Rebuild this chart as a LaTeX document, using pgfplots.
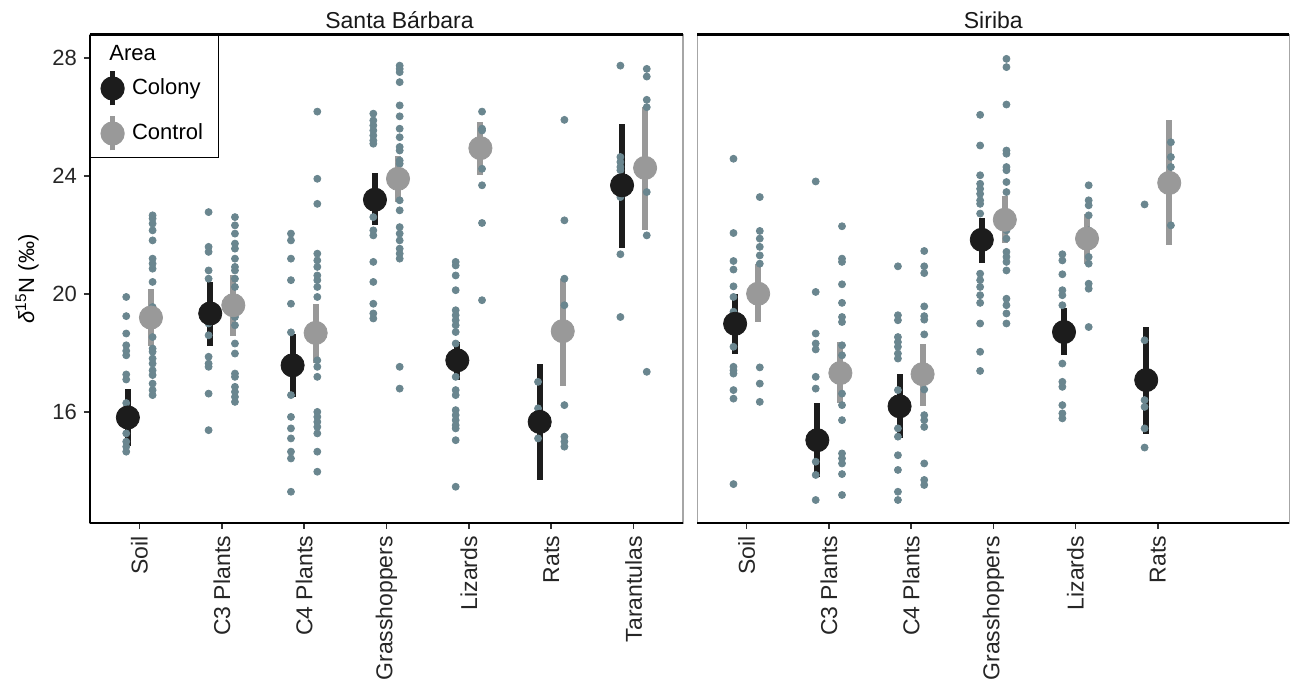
\documentclass[border=0pt]{standalone}
\usepackage{fontspec}
\setmainfont{Liberation Sans}
\usepackage{pgfplots}
\pgfplotsset{compat=1.18}
\usepackage{pgfplotstable}

\definecolor{dotc}{RGB}{106,134,143}
\definecolor{colc}{RGB}{28,28,28}
\definecolor{conc}{RGB}{153,153,153}

% ---------- Santa Barbara ----------
\pgfplotstableread{
c y
1 19.90
1 19.25
1 18.66
1 18.26
1 18.07
1 17.92
1 17.27
1 17.10
1 16.30
1 16.06
1 15.60
1 15.27
1 14.99
1 14.82
1 14.65
2 22.78
2 21.60
2 21.43
2 20.80
2 20.52
2 19.00
2 18.60
2 17.87
2 17.64
2 17.53
2 16.62
2 15.38
3 22.05
3 21.82
3 21.20
3 20.47
3 19.67
3 18.70
3 17.50
3 16.57
3 15.83
3 15.44
3 15.10
3 14.65
3 14.42
3 13.29
4 26.12
4 25.89
4 25.72
4 25.55
4 25.38
4 25.21
4 25.10
4 22.61
4 22.16
4 21.99
4 21.09
4 20.41
4 19.67
4 19.34
4 19.17
5 21.09
5 20.97
5 20.63
5 20.13
5 19.45
5 19.28
5 19.11
5 18.94
5 18.71
5 18.32
5 17.19
5 16.74
5 16.57
5 16.06
5 15.89
5 15.72
5 15.55
5 15.44
5 15.04
5 13.46
6 17.02
6 16.12
6 15.60
6 15.10
7 27.75
7 24.65
7 24.48
7 24.31
7 24.20
7 23.29
7 21.35
7 19.22
}\SBcolDots

\pgfplotstableread{
c y
1 22.67
1 22.56
1 22.39
1 22.16
1 21.82
1 21.20
1 21.03
1 20.86
1 20.41
1 19.56
1 18.54
1 18.15
1 18.04
1 17.81
1 17.64
1 17.41
1 17.25
1 16.96
1 16.74
1 16.57
2 22.61
2 22.33
2 22.05
2 21.71
2 21.54
2 21.20
2 20.92
2 20.80
2 20.52
2 20.24
2 19.22
2 18.94
2 18.32
2 17.98
2 17.30
2 17.19
2 16.85
2 16.68
2 16.51
2 16.34
3 26.19
3 23.91
3 23.06
3 21.37
3 21.14
3 20.92
3 20.63
3 20.47
3 20.24
3 19.90
3 17.75
3 17.53
3 17.19
3 16.00
3 15.83
3 15.66
3 15.49
3 15.27
3 14.65
3 13.97
4 27.75
4 27.64
4 27.53
4 27.19
4 26.40
4 26.03
4 25.61
4 25.32
4 24.99
4 24.87
4 24.53
4 24.42
4 23.18
4 22.84
4 22.27
4 22.05
4 21.82
4 21.54
4 21.37
4 21.20
4 17.53
4 16.79
5 26.19
5 25.61
5 25.55
5 24.25
5 23.69
5 22.41
5 19.79
6 25.91
6 22.50
6 20.52
6 19.62
6 16.23
6 15.16
6 14.99
6 14.82
7 27.64
7 27.38
7 26.59
7 26.34
7 24.40
7 23.46
7 21.99
7 17.36
}\SBconDots

\pgfplotstableread{
c m lo hi
1 15.81 14.84 16.79
2 19.34 18.23 20.41
3 17.58 16.51 18.63
4 23.20 22.33 24.10
5 17.75 17.08 18.37
6 15.66 13.69 17.62
7 23.69 21.57 25.78
}\SBcolMean

\pgfplotstableread{
c m lo hi
1 19.20 18.23 20.18
2 19.62 18.57 20.63
3 18.68 17.66 19.67
4 23.91 23.12 24.70
5 24.95 24.05 25.83
6 18.74 16.88 20.52
7 24.28 22.18 26.36
}\SBconMean

% ---------- Siriba ----------
\pgfplotstableread{
c y
1 24.59
1 22.07
1 21.12
1 20.83
1 20.26
1 19.90
1 19.40
1 18.21
1 17.53
1 17.41
1 17.30
1 16.74
1 16.45
1 13.55
2 23.82
2 20.07
2 18.66
2 18.32
2 18.12
2 17.19
2 16.79
2 14.31
2 13.86
2 13.01
3 20.94
3 19.28
3 19.11
3 18.54
3 18.37
3 18.21
3 17.98
3 17.81
3 16.74
3 15.44
3 15.16
3 14.53
3 14.03
3 13.29
3 13.01
4 26.08
4 25.04
4 24.03
4 23.74
4 23.57
4 23.40
4 23.18
4 23.06
4 22.73
4 20.69
4 20.47
4 20.24
4 19.96
4 19.70
4 19.00
4 18.04
4 17.39
5 21.35
5 21.14
5 20.67
5 20.13
5 19.96
5 19.62
5 17.64
5 17.02
5 16.85
5 16.23
5 15.95
5 15.78
6 23.04
6 18.43
6 16.40
6 16.17
6 15.44
6 14.79
}\SIcolDots

\pgfplotstableread{
c y
1 23.29
1 22.14
1 21.88
1 21.60
1 21.31
1 21.03
1 17.51
1 16.96
1 16.34
2 22.30
2 21.20
2 21.09
2 20.33
2 19.70
2 19.22
2 19.05
2 18.26
2 17.92
2 16.62
2 16.23
2 15.72
2 14.59
2 14.42
2 14.25
2 13.89
2 13.18
3 21.46
3 20.94
3 20.71
3 19.58
3 19.25
3 19.13
3 18.63
3 16.76
3 15.89
3 15.72
3 15.49
3 14.25
3 13.69
3 13.52
4 27.98
4 27.70
4 26.43
4 24.87
4 24.76
4 24.31
4 24.20
4 23.80
4 23.46
4 22.16
4 21.88
4 21.43
4 21.26
4 21.09
4 20.80
4 19.84
4 19.62
4 19.34
4 19.00
5 23.69
5 23.18
5 23.01
5 22.67
5 22.16
5 21.71
5 21.26
5 21.03
5 20.35
5 20.18
5 18.88
6 25.15
6 24.65
6 24.31
6 22.33
}\SIconDots

\pgfplotstableread{
c m lo hi
1 18.99 17.98 20.01
2 15.04 13.80 16.29
3 16.19 15.10 17.28
4 21.84 21.06 22.59
5 18.71 17.92 19.54
6 17.08 15.25 18.88
}\SIcolMean

\pgfplotstableread{
c m lo hi
1 20.01 19.05 21.03
2 17.32 16.29 18.37
3 17.28 16.19 18.32
4 22.52 21.73 23.31
5 21.88 21.03 22.73
6 23.77 21.65 25.89
}\SIconMean

\pgfplotsset{
  panel/.style={
    scale only axis,
    height=244pt,
    xmin=0.4, xmax=7.6,
    ymin=12.23, ymax=28.79,
    ytick={16,20,24,28},
    xtick={1,2,3,4,5,6,7},
    axis line style={draw=black!35, line width=0.6pt},
    tick align=outside,
    major tick length=3pt,
    tick style={color=black!80, line width=0.8pt},
    xtick pos=lower, ytick pos=left,
    /pgf/number format/assume math mode=true,
    tick label style={font=\fontsize{11}{13}\selectfont, text=black!85},
    x tick label style={rotate=90, anchor=east, font=\fontsize{11.5}{13}\selectfont},
    every axis title/.style={at={(0.5,1)}, anchor=base, yshift=3.2pt,
      font=\fontsize{11.5}{13}\selectfont, text=black!90},
    clip=false,
  },
  dots/.style={only marks, mark=*, mark size=1.75pt, color=dotc, mark options={draw=none, fill=dotc}, forget plot},
  means/.style={only marks, mark=*, mark size=5.8pt, color=#1, mark options={draw=none, fill=#1},
    error bars/y dir=both, error bars/y explicit, error bars/error mark=none,
    error bars/error bar style={line width=3pt, color=#1}},
  meanglyph/.style={legend image code/.code={%
      \path[draw=none, fill=none] (-6pt,-10pt) rectangle (6pt,10pt);
      \draw[line width=2.8pt, color=#1] (0pt,-8.5pt) -- (0pt,8.5pt);
      \fill[color=#1] (0pt,0pt) circle (5.8pt);}},
}

\begin{document}
\begin{tikzpicture}
\useasboundingbox (0,0) rectangle (645.5pt,341.5pt);

% ---- Panel 1: Santa Barbara ----
\begin{axis}[panel,
  at={(45pt,80pt)}, anchor=south west,
  width=296.5pt,
  title={Santa Bárbara},
  title style={xshift=6.5pt},
  xticklabels={Soil, C3 Plants, C4 Plants, Grasshoppers, Lizards, Rats, Tarantulas},
  ylabel={\textit{δ}\textsuperscript{15}N (‰)},
  ylabel style={font=\fontsize{11}{13}\selectfont, text=black},
  legend style={at={(rel axis cs:0,1)}, anchor=north west, draw=black, line width=0.5pt,
    fill=white, font=\fontsize{11}{13}\selectfont, inner xsep=5pt, inner ysep=2pt,
    nodes={inner sep=0pt, anchor=west}, row sep=2.5pt, column sep=3.7pt},
  legend cell align=left,
]
\addlegendimage{empty legend}
\addplot[dots] table[x expr=\thisrow{c}-0.16, y=y]{\SBcolDots};
\addplot[dots] table[x expr=\thisrow{c}+0.16, y=y]{\SBconDots};
\addplot[means=colc, meanglyph=colc] table[x expr=\thisrow{c}-0.14, y=m,
  y error plus expr=\thisrow{hi}-\thisrow{m}, y error minus expr=\thisrow{m}-\thisrow{lo}]{\SBcolMean};
\addplot[means=conc, meanglyph=conc] table[x expr=\thisrow{c}+0.14, y=m,
  y error plus expr=\thisrow{hi}-\thisrow{m}, y error minus expr=\thisrow{m}-\thisrow{lo}]{\SBconMean};
\legend{\hspace*{-11.3pt}\rule{0pt}{10.5pt}Area, Colony, Control\hspace*{2.5pt}}
\draw[black, line width=1.5pt] (rel axis cs:0,1) -- (rel axis cs:1,1);
\draw[black, line width=1.1pt] (rel axis cs:0,0) -- (rel axis cs:0,1);
\draw[black, line width=1.1pt] (rel axis cs:0,0) -- (rel axis cs:1,0);
\end{axis}

% ---- Panel 2: Siriba ----
\begin{axis}[panel,
  at={(348.65pt,80pt)}, anchor=south west,
  width=296pt,
  title={Siriba},
  xtick={1,2,3,4,5,6},
  xticklabels={Soil, C3 Plants, C4 Plants, Grasshoppers, Lizards, Rats},
  ytick=\empty,
]
\addplot[dots] table[x expr=\thisrow{c}-0.16, y=y]{\SIcolDots};
\addplot[dots] table[x expr=\thisrow{c}+0.16, y=y]{\SIconDots};
\addplot[means=colc, forget plot] table[x expr=\thisrow{c}-0.14, y=m,
  y error plus expr=\thisrow{hi}-\thisrow{m}, y error minus expr=\thisrow{m}-\thisrow{lo}]{\SIcolMean};
\addplot[means=conc, forget plot] table[x expr=\thisrow{c}+0.14, y=m,
  y error plus expr=\thisrow{hi}-\thisrow{m}, y error minus expr=\thisrow{m}-\thisrow{lo}]{\SIconMean};
\draw[black, line width=1.5pt] (rel axis cs:0,1) -- (rel axis cs:1,1);
\draw[black, line width=1.1pt] (rel axis cs:0,0) -- (rel axis cs:1,0);
\end{axis}
\end{tikzpicture}
\end{document}
